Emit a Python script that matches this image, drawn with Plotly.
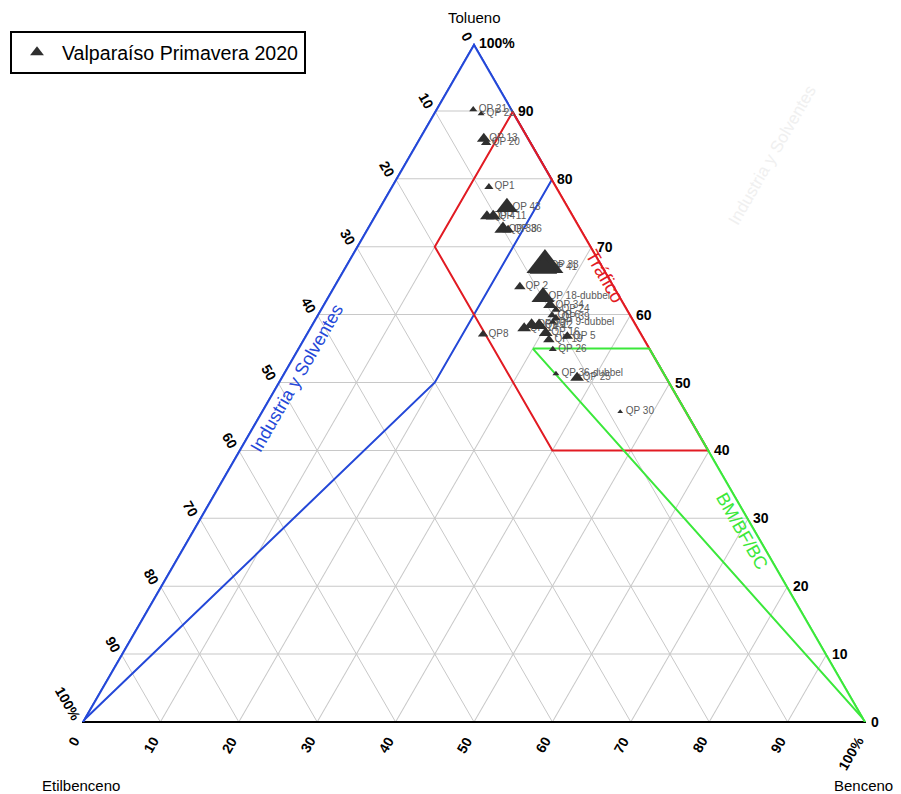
import plotly.graph_objects as go

# ---------------- data (percentages) ----------------
labels = ["QP 21", "QP 23", "QP 13", "QP 20", "QP1", "QP 43", "QP 4", "QP 11",
          "QP 38", "QP 36", "QP 33", "QP 41", "QP 2", "QP 18-dubbel", "QP 34",
          "QP 24", "QP 6", "QP 39", "QP 9-dubbel", "QP 14", "QP 15", "QP 12",
          "QP 16", "QP 19", "QP 5", "QP 26", "QP8", "QP 36-dubbel", "QP 25", "QP 30"]
tolueno = [90.2, 89.6, 85.9, 85.3, 78.8, 75.8, 74.5, 74.5, 72.6, 72.5, 67.3, 66.9,
           64.1, 62.6, 61.4, 60.7, 59.9, 59.5, 58.9, 58.0, 58.5, 58.4, 57.3, 56.3,
           56.8, 54.9, 57.1, 51.3, 50.7, 45.7]
benceno = [4.8, 6.1, 8.3, 8.9, 12.5, 16.3, 14.4, 15.2, 17.4, 18.1, 25.4, 25.4,
           23.8, 27.5, 29.0, 30.1, 30.0, 30.7, 30.6, 27.4, 28.1, 29.1, 30.5, 31.4,
           33.5, 32.6, 22.6, 34.8, 37.8, 45.8]
etilbenceno = [5.0, 4.3, 5.8, 5.8, 8.7, 7.9, 11.1, 10.3, 10.0, 9.4, 7.3, 7.7,
               12.1, 9.9, 9.6, 9.2, 10.1, 9.8, 10.5, 14.6, 13.4, 12.5, 12.2, 12.3,
               9.7, 12.5, 20.3, 13.9, 11.5, 8.5]
sizes = [7, 6, 12, 9, 8, 19, 12, 13, 15, 10, 32, 24, 10, 20, 12, 8, 8, 8, 7,
         12, 13, 14, 12, 10, 10, 7, 9, 6, 12, 5]

# region polygons (Tolueno, Etilbenceno, Benceno)
trafico_t = [90, 70, 40, 40, 90]
trafico_e = [0, 20, 20, 0, 0]
trafico_b = [10, 10, 40, 60, 10]
industria_t = [100, 80, 50, 0, 100]
industria_e = [0, 0, 30, 100, 0]
industria_b = [0, 20, 20, 0, 0]
bm_t = [55, 55, 0, 55]
bm_e = [15, 0, 0, 15]
bm_b = [30, 45, 100, 30]

ticks = [0, 10, 20, 30, 40, 50, 60, 70, 80, 90, 100]

FONT = "Arial, Liberation Sans, sans-serif"
RED = "#e21b23"
BLUE = "#2448d8"
GREEN = "#3be83b"

W, H = 901, 794


def tern_to_paper(t, e, b):
    s = t + e + b
    return (b + t / 2) / s, t / s


def tick_text(v):
    return "100%" if v == 100 else str(v)


fig = go.Figure()

for (ta, ea, ba, col) in [(industria_t, industria_e, industria_b, BLUE),
                          (trafico_t, trafico_e, trafico_b, RED),
                          (bm_t, bm_e, bm_b, GREEN)]:
    fig.add_trace(go.Scatterternary(a=ta, b=ea, c=ba, mode="lines",
                                    line=dict(color=col, width=2),
                                    showlegend=False, hoverinfo="skip"))
    # segments lying on the triangle border get clipped to half width: draw them wider
    for i in range(len(ta) - 1):
        on_edge = ((ta[i] == 0 and ta[i + 1] == 0) or (ea[i] == 0 and ea[i + 1] == 0)
                   or (ba[i] == 0 and ba[i + 1] == 0))
        if on_edge:
            fig.add_trace(go.Scatterternary(a=ta[i:i + 2], b=ea[i:i + 2], c=ba[i:i + 2],
                                            mode="lines", line=dict(color=col, width=4),
                                            showlegend=False, hoverinfo="skip"))

# point labels (under markers)
fig.add_trace(go.Scatterternary(
    a=tolueno, b=etilbenceno, c=benceno, mode="text",
    text=["\u00a0\u00a0" + l for l in labels], textposition="middle right",
    textfont=dict(size=10, color="#5a5a5a", family=FONT),
    showlegend=False, hoverinfo="skip"))

fig.add_trace(go.Scatterternary(
    a=tolueno, b=etilbenceno, c=benceno, mode="markers",
    marker=dict(symbol="triangle-up", size=sizes, color="#2f2f2f", opacity=1,
                line=dict(width=0)),
    name="Valparaíso Primavera 2020", text=labels))

annotations = []
# Tolueno ticks on right edge
for t in ticks:
    x, y = tern_to_paper(t, 0, 100 - t)
    annotations.append(dict(x=x, y=y, xref="paper", yref="paper", text=tick_text(t),
                            showarrow=False, xanchor="left", yanchor="middle", xshift=3,
                            font=dict(size=14, color="black", family=FONT, weight="bold")))
# Etilbenceno ticks on left edge
for e in ticks:
    x, y = tern_to_paper(100 - e, e, 0)
    annotations.append(dict(x=x, y=y, xref="paper", yref="paper", text=tick_text(e),
                            showarrow=False, xanchor="right", yanchor="bottom",
                            textangle=60, xshift=5, yshift=-4,
                            font=dict(size=14, color="black", family=FONT, weight="bold")))
# Benceno ticks on bottom edge
for b in ticks:
    x, y = tern_to_paper(0, 100 - b, b)
    annotations.append(dict(x=x, y=y, xref="paper", yref="paper", text=tick_text(b),
                            showarrow=False, xanchor="right", yanchor="top",
                            textangle=-60, xshift=4, yshift=-9,
                            font=dict(size=14, color="black", family=FONT, weight="bold")))

# corner titles
for txt, x, y in [("Tolueno", 0.5, 1.038), ("Etilbenceno", -0.0013, -0.094),
                  ("Benceno", 0.997, -0.094)]:
    annotations.append(dict(x=x, y=y, xref="paper", yref="paper", text=txt,
                            showarrow=False, xanchor="center", yanchor="middle",
                            font=dict(size=15, color="black", family=FONT)))

# region labels
for txt, x, y, ang, col, sz in [("Tráfico", 0.667, 0.656, 60, RED, 19),
                                ("Industria y Solventes", 0.274, 0.507, -60, BLUE, 18),
                                ("BM/BF/BC", 0.842, 0.282, 60, GREEN, 18),
                                ("Industria y Solventes", 0.880, 0.835, -60, "#f0f0f0", 17)]:
    annotations.append(dict(x=x, y=y, xref="paper", yref="paper", text=txt,
                            showarrow=False, textangle=ang, xanchor="center", yanchor="middle",
                            font=dict(size=sz, color=col, family=FONT)))

axis_common = dict(title=dict(text=""), showticklabels=False, ticks="", min=0,
                   showgrid=True, gridcolor="#c8c8c8", gridwidth=1, dtick=10,
                   showline=True, linewidth=2, layer="below traces")

fig.update_layout(
    width=W, height=H,
    margin=dict(l=82, r=W - 82 - 784, t=43, b=H - 43 - 679, autoexpand=False),
    paper_bgcolor="white", plot_bgcolor="white",
    font=dict(family=FONT),
    ternary=dict(sum=100, bgcolor="white",
                 aaxis=dict(axis_common, showline=False),
                 baxis=dict(axis_common, linecolor="black"),
                 caxis=dict(axis_common, showline=False)),
    legend=dict(xref="container", yref="container", x=10 / W, y=1 - 31 / H,
                xanchor="left", yanchor="top", bordercolor="black", borderwidth=2,
                bgcolor="white", itemsizing="constant", itemwidth=40,
                font=dict(size=19.6, color="black", family=FONT)),
    showlegend=True,
    annotations=annotations,
)

# remove the default 8px page margin so the figure fills the window exactly
fig.write_html("out.html", config={"displayModeBar": False},
               post_script="document.body.style.margin='0';document.body.style.overflow='hidden';")
